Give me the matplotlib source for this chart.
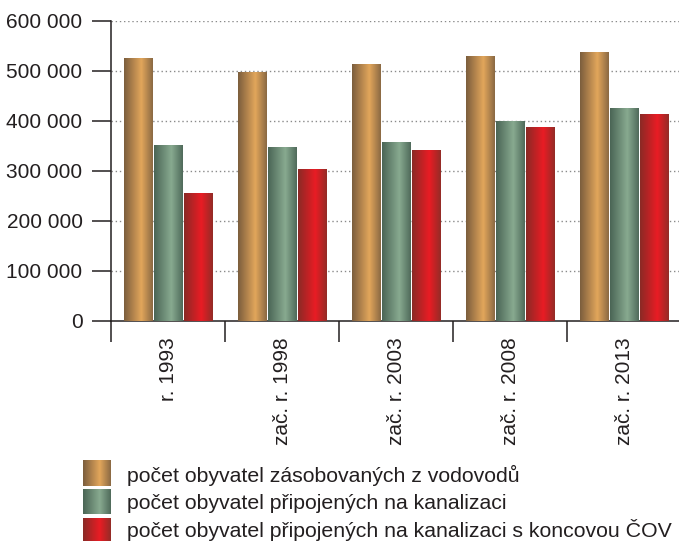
import numpy as np
import matplotlib
matplotlib.use("Agg")
import matplotlib.pyplot as plt
from matplotlib.colors import LinearSegmentedColormap
from matplotlib.ticker import FuncFormatter, FixedLocator

plt.rcParams['font.family'] = ['Liberation Sans', 'DejaVu Sans']

categories = ["r. 1993", "zač. r. 1998", "zač. r. 2003", "zač. r. 2008", "zač. r. 2013"]
water_supply = [526000, 499000, 514000, 530000, 538000]
sewer_connected = [352000, 348000, 358000, 400000, 426000]
sewer_with_wwtp = [256000, 304000, 342000, 388000, 414000]
series_labels = [
    "počet obyvatel zásobovaných z vodovodů",
    "počet obyvatel připojených na kanalizaci",
    "počet obyvatel připojených na kanalizaci s koncovou ČOV",
]
yticks = [0, 100000, 200000, 300000, 400000, 500000, 600000]

# edge / highlight colours for the cylindrical shading of each series
shades = [
    ("#7b5d3d", "#e2a65b", "#8a6943"),
    ("#4a6555", "#88aa90", "#4f6a5a"),
    ("#8a2a26", "#e91c24", "#932c27"),
]
cmaps = [LinearSegmentedColormap.from_list(f"s{i}", [(0, a), (0.6, b), (1, c)])
         for i, (a, b, c) in enumerate(shades)]
grad = np.linspace(0, 1, 256).reshape(1, -1)

text_color = "#231f20"
fs = 15

fig = plt.figure(figsize=(6.79, 5.41), dpi=100)
ax = fig.add_axes([111 / 679, 1 - 321 / 541, 570 / 679, 300 / 541])

x = np.arange(len(categories))
width = 0.25
offsets = [-0.265, 0.0, 0.265]
all_series = [water_supply, sewer_connected, sewer_with_wwtp]

for vals, off, cmap in zip(all_series, offsets, cmaps):
    bars = ax.bar(x + off, vals, width, facecolor="none", edgecolor="none", zorder=3)
    for b in bars:
        x0, y0 = b.get_x(), b.get_y()
        im = ax.imshow(grad, cmap=cmap, aspect="auto", interpolation="bilinear",
                       extent=(x0, x0 + b.get_width(), y0, y0 + b.get_height()),
                       zorder=3)
        im.set_clip_path(b)

ax.set_xlim(-0.5, len(categories) - 0.5)
ax.set_ylim(0, 600000)

# dotted grid
for yv in yticks[1:]:
    ax.axhline(yv, color="#8a8a8a", lw=1.0, ls=(0, (1, 2)), zorder=1)

ax.spines["top"].set_visible(False)
ax.spines["right"].set_visible(False)
for s in ("left", "bottom"):
    ax.spines[s].set_color(text_color)
    ax.spines[s].set_linewidth(1.1)

ax.yaxis.set_major_locator(FixedLocator(yticks))
ax.yaxis.set_major_formatter(FuncFormatter(lambda v, p: f"{int(v):,}".replace(",", " ")))
ax.tick_params(axis="y", length=14, width=1.1, color=text_color, pad=6.5,
               labelsize=fs, labelcolor=text_color)

ax.set_xticks(np.arange(-0.5, len(categories), 1.0))
ax.set_xticklabels([])
ax.tick_params(axis="x", which="major", length=15, width=1.1, color=text_color)
ax.set_xticks(x, minor=True)
ax.set_xticklabels(categories, minor=True, rotation=90, fontsize=fs, color=text_color)
ax.tick_params(axis="x", which="minor", length=0, pad=12)

# legend
lax = fig.add_axes([0, 0, 1, 1], zorder=5)
lax.set_xlim(0, 679)
lax.set_ylim(541, 0)
lax.axis("off")
rows = [(460, 486, 482), (489, 514, 509), (518, 541, 537)]
for (top, bot, base), cmap, lab in zip(rows, cmaps, series_labels):
    lax.imshow(grad, cmap=cmap, aspect="auto", interpolation="bilinear",
               extent=(83, 111, bot, top))
    lax.text(127, base, lab, fontsize=15.3, color=text_color,
             va="baseline", ha="left")
lax.set_xlim(0, 679)
lax.set_ylim(541, 0)

fig.savefig("out.png", dpi=100)
